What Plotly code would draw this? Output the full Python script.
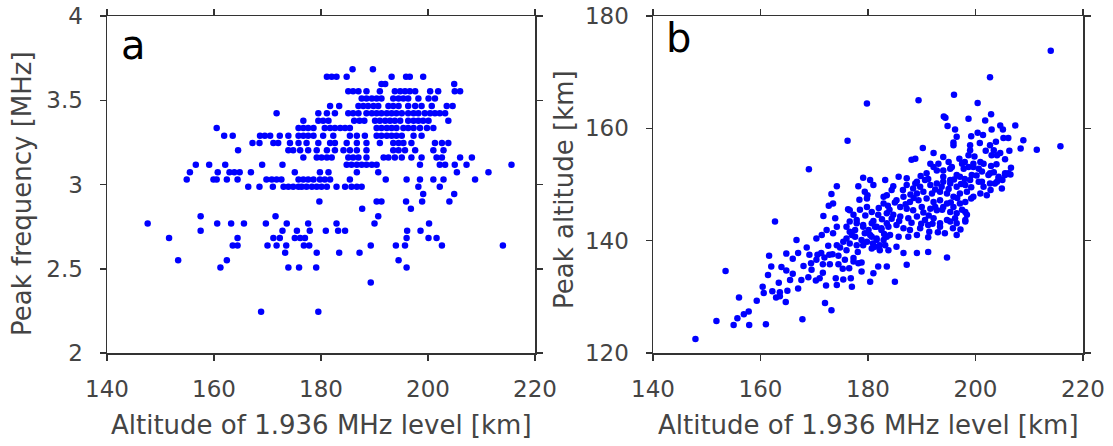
import plotly.graph_objects as go

# ---------------- Panel a data: peak frequency (MHz) levels and altitudes (km) ----------------
freq_levels = [3.684, 3.640, 3.597, 3.553, 3.510, 3.466, 3.423, 3.379, 3.336, 3.290,
               3.247, 3.204, 3.160, 3.117, 3.073, 3.030, 2.986, 2.943, 2.899, 2.856,
               2.812, 2.769, 2.725, 2.682, 2.638, 2.595, 2.551, 2.508, 2.419, 2.245]

alt_per_level = [
    [185.9, 189.7],
    [181.1, 182.0, 182.9, 184.8, 193.2, 195.9, 196.6, 199.1],
    [191.3, 192.0, 204.9],
    [185.1, 186.0, 187.0, 188.5, 191.0, 193.8, 194.8, 195.7, 196.6, 197.6, 200.4, 201.9, 205.0, 206.0],
    [187.6, 188.5, 189.5, 190.4, 191.3, 193.5, 194.5, 195.4, 196.3, 198.2, 200.1, 201.3],
    [181.7, 183.4, 187.0, 187.9, 188.8, 189.8, 190.7, 192.6, 193.5, 194.5, 196.3, 197.6, 198.8, 200.7, 203.5, 204.6],
    [171.7, 179.5, 181.1, 182.6, 185.1, 186.0, 187.0, 188.5, 189.5, 190.4, 191.3, 192.3, 193.2, 194.1, 195.1,
     196.3, 197.3, 198.2, 199.4, 200.4, 201.3, 202.2, 203.2],
    [176.7, 179.5, 180.4, 181.4, 186.2, 187.2, 188.1, 190.1, 191.0, 192.0, 192.9, 193.8, 194.8, 196.3, 197.3,
     198.2, 199.1, 200.1, 203.8],
    [160.5, 175.8, 176.7, 177.6, 178.6, 180.7, 181.7, 182.6, 183.6, 184.5, 185.4, 190.4, 191.3, 192.3, 193.2,
     194.1, 195.4, 196.3, 197.3, 198.5, 199.8, 201.0],
    [161.9, 163.5, 168.6, 169.5, 170.5, 172.3, 173.9, 175.8, 176.7, 177.6, 178.6, 180.4, 182.3, 185.4, 186.7,
     188.2, 190.4, 191.3, 192.3, 193.2, 194.1, 195.1, 197.3, 198.8],
    [167.2, 168.5, 171.1, 172.0, 174.2, 175.8, 177.3, 179.5, 181.7, 182.6, 184.8, 186.7, 188.5, 191.0, 193.5,
     194.5, 195.4, 196.9, 201.3, 202.6, 203.8],
    [164.5, 173.9, 174.8, 176.1, 177.6, 179.2, 181.1, 182.6, 184.2, 185.4, 186.7, 188.5, 193.5, 194.5, 195.7,
     197.6, 201.0, 202.9],
    [176.7, 179.2, 180.1, 181.1, 182.0, 185.1, 186.0, 187.0, 188.5, 191.7, 192.6, 193.8, 195.1, 196.9, 198.8,
     201.6, 202.6, 206.0, 208.2],
    [156.6, 159.1, 162.1, 169.0, 172.8, 184.8, 185.7, 186.7, 187.6, 188.5, 189.5, 190.4, 198.5, 202.2, 203.2,
     205.0, 207.2, 215.6],
    [155.5, 160.7, 162.9, 163.8, 164.8, 166.9, 175.1, 179.8, 181.4, 186.7, 190.7, 205.4, 211.3],
    [154.9, 159.9, 160.5, 162.4, 164.4, 169.8, 170.8, 171.7, 172.6, 175.8, 176.7, 177.6, 178.6, 179.8, 180.7,
     181.7, 185.4, 192.1, 196.0, 198.5, 201.0, 202.9, 208.8],
    [166.4, 168.5, 171.0, 173.0, 173.9, 174.8, 175.8, 176.4, 177.3, 178.3, 179.2, 180.1, 181.1, 182.9, 184.5,
     185.7, 186.7, 187.6, 198.2, 202.2],
    [199.1, 204.9],
    [179.7, 190.4, 191.3, 195.9, 198.9, 204.0],
    [187.7, 196.8],
    [157.5, 171.5, 190.7],
    [147.6, 160.6, 163.2, 165.6, 169.7, 173.6, 177.6, 182.9, 190.0, 200.2],
    [157.5, 172.8, 175.5, 177.9, 180.9, 183.2, 184.5, 196.1, 198.6],
    [151.6, 164.4, 171.1, 172.3, 175.1, 176.1, 177.0, 196.0, 200.1, 201.6],
    [163.5, 164.4, 170.0, 171.7, 173.5, 176.8, 177.8, 189.3, 194.0, 195.7, 202.6, 214.0],
    [173.3, 179.2, 183.4, 187.2],
    [153.3, 162.4, 194.5],
    [161.2, 173.9, 175.9, 179.1, 196.0],
    [189.3],
    [168.8, 179.5],
]

alt_a = []
freq_a = []
for f, alts in zip(freq_levels, alt_per_level):
    for a in alts:
        alt_a.append(a)
        freq_a.append(f)

# ---------------- Panel b data: altitude of 1.936 MHz level vs peak altitude (km) ----------------
alt_b = [
    214.0, 202.7, 196.0, 189.4, 200.4, 179.8,
    194.1, 194.4, 198.7, 202.9, 201.8, 194.8, 204.6, 205.1, 207.4, 196.2, 200.4, 201.4, 199.2, 203.0,
    205.2, 206.1, 208.9, 208.4, 211.4, 215.8, 176.2,
    195.9, 196.5, 195.9, 190.2, 199.0, 199.0, 198.7, 202.7, 203.4, 204.0, 204.6, 203.0, 192.2, 194.0,
    195.0, 195.6, 188.1, 188.8, 200.9, 199.6, 169.0, 205.5, 206.5, 202.7, 204.3, 201.2, 204.9, 202.1, 205.0,
    191.6, 192.8, 194.0, 195.3, 197.1, 197.8, 199.3,
    174.2, 179.1, 180.4, 183.2, 185.7, 187.2, 178.2, 181.0, 184.7, 187.2, 188.8, 189.7,
    179.4, 179.9, 183.5, 182.9, 189.1, 188.4,
    190.9, 192.2, 193.1, 194.0, 195.3, 196.5, 197.5, 198.7, 199.6, 200.6, 201.5, 202.4, 203.4, 204.3, 205.5, 206.1,
    190.6, 191.6, 192.8, 194.0, 195.3, 196.5, 198.1, 199.0, 200.6, 201.5, 202.7, 204.0,
    189.1, 190.3, 191.9, 193.4, 194.7, 195.9, 197.1, 198.4, 199.6, 200.9,
    185.3, 186.6, 187.8, 189.4, 190.9, 192.2, 193.4, 194.7, 195.9, 197.1,
    186.0, 187.2, 188.4, 190.0, 191.6, 192.8, 194.0, 195.3, 196.5, 198.1,
    176.6, 177.3, 179.8, 180.7, 181.9, 183.5, 184.7, 186.0, 187.5, 189.1, 190.6, 192.2, 193.4, 194.7, 196.2, 198.1,
    176.6, 177.9, 179.1, 180.1, 181.3, 182.5, 183.8, 185.3, 186.6, 187.8, 189.7, 191.2, 193.4, 194.3, 195.3, 196.5, 198.1,
    176.6, 177.6, 178.8, 180.4, 181.6, 182.9, 184.1, 185.7, 187.5, 189.1, 191.2,
    176.6, 179.1, 180.7, 182.2, 183.8, 185.3, 186.6, 189.1, 191.2, 194.7,
    177.3, 178.2, 178.8, 181.0, 181.9, 183.5, 187.2, 185.0, 180.4, 177.0,
    162.7, 166.7, 168.6, 170.4, 171.4, 172.3, 161.6, 164.8, 153.5, 162.0, 163.9, 164.8, 166.0, 161.4, 163.4,
    160.4, 160.6, 162.2, 163.6, 165.0, 162.9, 163.6, 156.0, 159.3, 164.7, 157.8, 156.9, 155.7, 151.8, 155.0,
    157.9, 161.0, 167.8, 147.9, 167.0, 167.6, 168.9, 170.3, 172.0, 173.2, 172.2, 174.2, 174.0, 175.4, 176.8,
    176.5, 174.5, 172.9, 171.6,
    171.6, 171.9, 171.3, 170.4, 169.4, 169.1, 170.6, 172.8, 174.5, 175.7, 177.3, 178.8, 174.2, 172.6, 175.4,
    176.0, 177.0, 177.6, 177.9, 179.8, 180.7, 181.6, 181.3, 182.2, 183.2, 183.5, 182.5, 181.6, 180.7, 183.5,
    179.4, 179.1, 177.9, 176.0, 174.2, 173.5,
    173.2, 173.5, 172.7, 171.7, 173.9, 176.3, 178.4, 179.8, 182.9, 183.7, 184.4, 191.4, 196.5, 198.1, 198.4,
    186.5, 187.9, 189.8, 191.2, 192.5, 193.7, 195.0, 196.0, 197.3, 198.0, 199.2, 200.2, 201.2, 202.9, 203.9,
    197.0, 198.0, 199.8, 201.9, 200.8, 203.8, 205.5, 206.3, 190.3, 191.3, 192.5, 193.8, 195.4, 196.6, 189.9,
    188.1, 185.8, 184.4, 182.6, 181.0, 179.5, 178.5, 182.0, 184.0, 185.0, 187.0, 188.5, 183.0, 180.9, 178.1,
    176.0, 174.8, 173.4, 175.3, 168.0, 167.0, 166.0, 165.5, 169.5, 171.0, 193.0, 192.0, 195.8, 197.2, 197.5,
    199.2, 202.8, 203.6, 206.6,
]

peak_alt_b = [
    173.8, 169.1, 166.0, 165.0, 164.5, 164.4,
    162.1, 161.9, 161.7, 162.5, 161.4, 160.4, 160.5, 159.8, 160.5, 159.8, 159.2, 158.8, 158.6, 159.8,
    158.3, 158.3, 157.9, 156.4, 156.2, 156.8, 157.8,
    157.5, 158.5, 157.0, 156.5, 157.0, 156.1, 155.2, 157.0, 156.1, 155.2, 155.6, 155.2, 155.6, 154.9,
    154.0, 153.1, 154.4, 154.6, 154.0, 153.1, 152.7, 152.0, 151.8, 152.0, 151.4, 150.5, 149.3, 148.1, 150.8,
    153.7, 152.5, 151.4, 150.8, 151.4, 152.8, 151.7,
    149.7, 151.2, 150.8, 150.8, 151.4, 151.1, 149.7, 149.9, 149.7, 149.9, 150.2, 149.6,
    148.7, 148.1, 148.1, 146.6, 150.5, 149.3,
    152.0, 153.1, 153.7, 152.5, 152.8, 151.7, 153.7, 153.1, 153.7, 152.8, 153.7, 151.7, 152.2, 151.1, 151.7, 152.0,
    150.8, 149.9, 150.2, 150.5, 150.2, 149.6, 149.9, 150.8, 150.5, 149.6, 150.2, 150.5,
    148.4, 148.7, 148.4, 148.7, 148.4, 147.8, 148.4, 148.7, 147.8, 148.4,
    147.2, 147.8, 146.9, 147.2, 147.5, 146.9, 147.2, 146.6, 146.0, 146.6,
    146.0, 145.7, 145.4, 146.0, 145.7, 145.4, 146.0, 145.1, 144.9, 145.1,
    145.4, 144.6, 146.0, 145.1, 144.6, 144.9, 144.6, 144.3, 144.0, 144.3, 143.7, 144.0, 143.1, 143.7, 144.0, 143.7,
    143.4, 143.7, 142.8, 141.9, 142.5, 142.2, 142.5, 142.8, 142.2, 141.9, 142.2, 142.8, 142.5, 141.3, 143.4, 143.1, 143.4,
    141.6, 140.7, 140.1, 141.0, 140.4, 140.1, 141.0, 140.7, 140.7, 141.0, 140.6,
    139.5, 139.2, 138.6, 139.2, 138.3, 138.9, 137.8, 137.8, 138.0, 137.0,
    136.9, 136.0, 134.5, 134.2, 135.4, 135.4, 135.7, 132.7, 132.7, 131.8,
    143.4, 140.1, 138.8, 140.4, 141.0, 141.9, 137.3, 137.7, 134.6, 135.4, 135.3, 134.7, 134.1, 133.9, 132.5,
    131.8, 130.7, 131.0, 130.8, 131.1, 129.9, 130.1, 129.9, 129.3, 129.1, 127.4, 126.9, 126.2, 125.7, 125.0,
    125.0, 125.1, 126.0, 122.5, 131.5, 133.0, 133.5, 132.9, 128.9, 127.6, 132.0, 132.1, 133.3, 133.1, 133.3,
    135.1, 135.8, 135.8, 134.3,
    135.8, 137.0, 137.8, 136.6, 136.0, 137.5, 137.5, 137.5, 137.3, 136.6, 136.3, 136.1, 139.2, 139.1, 139.8,
    140.4, 141.0, 141.9, 139.2, 139.8, 140.7, 140.1, 138.9, 138.3, 139.2, 140.7, 141.9, 142.5, 143.1, 143.1,
    141.3, 142.5, 143.1, 142.5, 142.5, 141.3,
    148.3, 146.6, 146.2, 144.4, 144.0, 145.6, 147.3, 147.5, 147.8, 146.2, 149.0, 141.6, 141.0, 146.9, 144.6,
    149.0, 148.2, 151.5, 151.0, 149.1, 149.6, 149.2, 150.9, 150.1, 151.0, 149.5, 151.6, 152.3, 153.3, 153.6,
    154.6, 154.0, 155.0, 156.0, 157.4, 157.6, 154.5, 156.0, 145.0, 144.5, 146.0, 145.5, 146.8, 147.6, 143.0,
    143.2, 143.5, 143.9, 143.8, 143.5, 144.5, 145.5, 145.8, 145.5, 146.8, 146.5, 147.6, 141.2, 139.5, 138.0,
    138.3, 138.8, 137.6, 135.0, 135.5, 137.8, 136.8, 133.0, 134.8, 133.3, 141.5, 143.0, 142.2, 142.0, 145.5,
    147.5, 149.0, 150.2, 153.0,
]

x_ticks = [140, 160, 180, 200, 220]
ya_ticks = [2, 2.5, 3, 3.5, 4]
ya_ticktext = ["2", "2.5", "3", "3.5", "4"]
yb_ticks = [120, 140, 160, 180]

# The page body margin is removed by a post script, so the figure fills the whole window.
W, H = 1113, 446
FRAME = "#333333"
TICKFONT = dict(family="DejaVu Sans", size=23, color="#444444")
TITLEFONT = dict(family="DejaVu Sans", size=26, color="#444444")


def px(v):
    return v / W


def py(v):
    return 1 - v / H


fig = go.Figure()
marker = dict(color="#0000ff", size=6.5, line=dict(width=0))
fig.add_trace(go.Scatter(x=alt_a, y=freq_a, mode="markers", marker=marker,
                         xaxis="x", yaxis="y", showlegend=False))
fig.add_trace(go.Scatter(x=alt_b, y=peak_alt_b, mode="markers", marker=marker,
                         xaxis="x2", yaxis="y2", showlegend=False))


def axis(**kw):
    d = dict(ticks="outside", ticklen=6, tickwidth=1.5, tickcolor=FRAME,
             showline=True, linecolor=FRAME, linewidth=1.5, mirror="ticks",
             showgrid=False, zeroline=False, tickfont=TICKFONT, automargin=False,
             ticklabeloverflow="allow")
    d.update(kw)
    return d


fig.update_layout(
    width=W, height=H,
    margin=dict(l=0, r=0, t=0, b=0),
    paper_bgcolor="white", plot_bgcolor="white",
    xaxis=axis(domain=[px(107), px(535)], range=[140, 220], tickvals=x_ticks, anchor="y",
               ticklabelstandoff=9),
    yaxis=axis(domain=[py(353), py(16)], range=[2, 4], tickvals=ya_ticks, ticktext=ya_ticktext, anchor="x",
               ticklabelstandoff=12),
    xaxis2=axis(domain=[px(653), px(1083)], range=[140, 220], tickvals=x_ticks, anchor="y2",
                ticklabelstandoff=9),
    yaxis2=axis(domain=[py(353), py(16)], range=[120, 180], tickvals=yb_ticks, anchor="x2",
                ticklabelstandoff=12),
    annotations=[
        dict(text="Altitude of 1.936 MHz level [km]", x=px(321), y=py(425), xref="paper", yref="paper",
             showarrow=False, font=TITLEFONT, xanchor="center", yanchor="middle"),
        dict(text="Altitude of 1.936 MHz level [km]", x=px(868), y=py(425), xref="paper", yref="paper",
             showarrow=False, font=TITLEFONT, xanchor="center", yanchor="middle"),
        dict(text="Peak frequency [MHz]", x=px(22), y=py(194), xref="paper", yref="paper",
             showarrow=False, font=TITLEFONT, textangle=-90, xanchor="center", yanchor="middle"),
        dict(text="Peak altitude [km]", x=px(564), y=py(190), xref="paper", yref="paper",
             showarrow=False, font=TITLEFONT, textangle=-90, xanchor="center", yanchor="middle"),
        dict(text="a", x=px(119), y=py(20), xref="paper", yref="paper", showarrow=False,
             font=dict(family="DejaVu Sans", size=40, color="black"), xanchor="left", yanchor="top"),
        dict(text="b", x=px(664), y=py(13), xref="paper", yref="paper", showarrow=False,
             font=dict(family="DejaVu Sans", size=40, color="black"), xanchor="left", yanchor="top"),
    ],
)

fig.write_html("out.html",
               config={"displayModeBar": False, "staticPlot": True},
               post_script="document.body.style.margin='0px'; document.body.style.overflow='hidden';")
